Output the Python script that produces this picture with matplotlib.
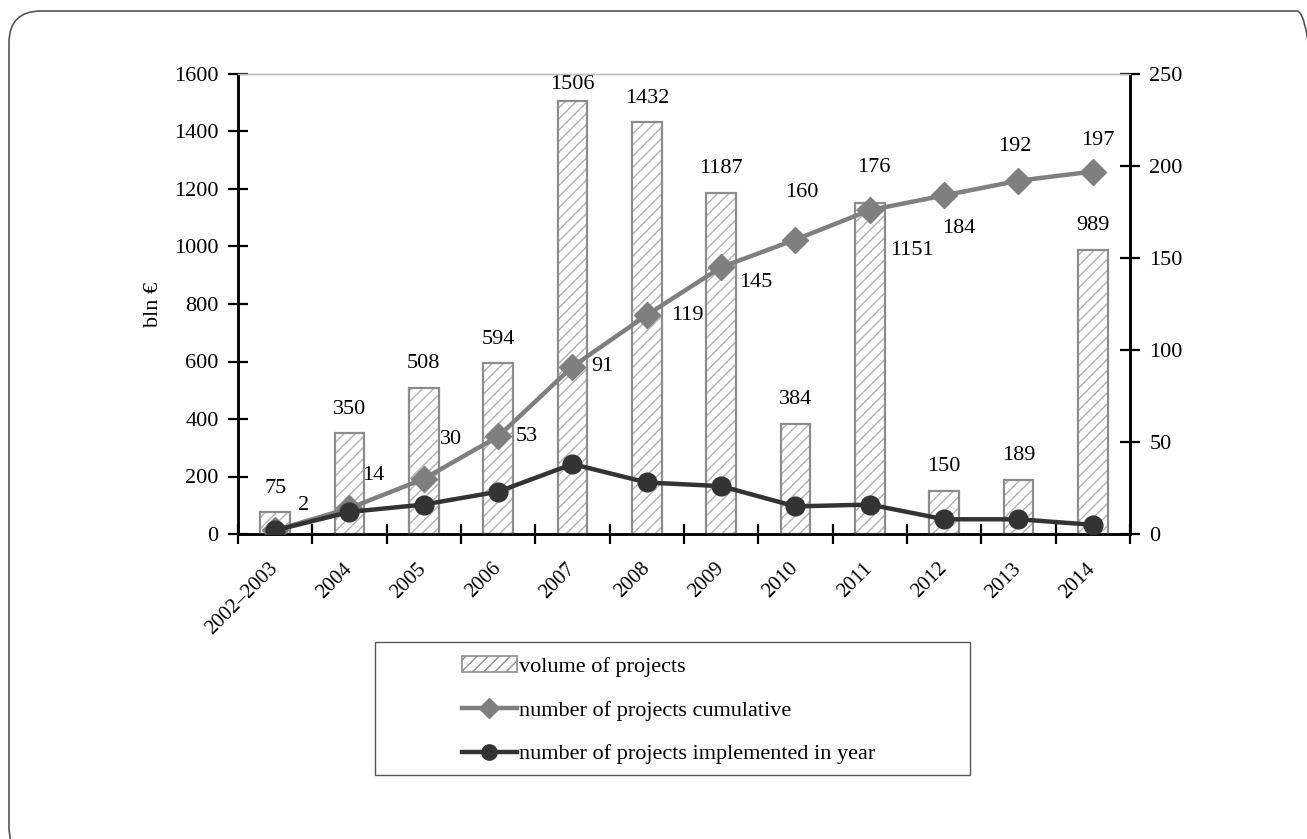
import numpy as np
import matplotlib.pyplot as plt
from matplotlib.patches import FancyBboxPatch, Rectangle, Patch
from matplotlib.lines import Line2D

plt.rcParams['font.family'] = ['Liberation Serif', 'DejaVu Serif']
plt.rcParams['font.size'] = 16
plt.rcParams['hatch.linewidth'] = 1.0

# dados
anos = ['2002\u20132003', '2004', '2005', '2006', '2007', '2008', '2009',
        '2010', '2011', '2012', '2013', '2014']
volume = [75, 350, 508, 594, 1506, 1432, 1187, 384, 1151, 150, 189, 989]
acumulado = [2, 14, 30, 53, 91, 119, 145, 160, 176, 184, 192, 197]
no_ano = [2, 12, 16, 23, 38, 28, 26, 15, 16, 8, 8, 5]

# deslocamento dos rotulos (pixels)
off_vol = [(0, 24)] * 12
off_vol[4] = (0, 17)
off_vol[8] = (42, -47)
off_acum = [(28, 25), (24, 33), (27, 39), (29, 0), (30, 0), (41, 0), (35, -15),
            (6, 47), (4, 43), (15, -33), (-4, 34), (5, 31)]

fig = plt.figure(figsize=(13.07, 8.39), dpi=100)

# moldura arredondada
moldura = FancyBboxPatch((9, -20), 1320, 848, boxstyle='round,pad=0,rounding_size=32',
                         transform=None, fill=False, edgecolor='#555555', lw=1.2)
fig.patches.append(moldura)

ax = fig.add_axes([238 / 1307, 1 - 534 / 839, (1130 - 238) / 1307, (534 - 74) / 839])
ax2 = ax.twinx()

x = np.arange(len(anos))
ax.bar(x, volume, width=0.4, color='white', hatch='///', edgecolor='#b0b0b0', lw=0, zorder=2)
ax.bar(x, volume, width=0.4, fill=False, edgecolor='#8c8c8c', lw=1.6, zorder=3)
for i, v in enumerate(volume):
    ax.annotate(str(v), (x[i], v), xytext=off_vol[i], textcoords='offset pixels',
                ha='center', va='center', fontsize=16)

ax2.plot(x, acumulado, color='#7f7f7f', lw=3.2, marker='D', ms=13, zorder=3)
ax2.plot(x, no_ano, color='#333333', lw=3.2, marker='o', ms=13.5, zorder=4)
for i, v in enumerate(acumulado):
    ax2.annotate(str(v), (x[i], v), xytext=off_acum[i], textcoords='offset pixels',
                 ha='center', va='center', fontsize=16)

ax.set_xlim(-0.5, len(anos) - 0.5)
ax.set_ylim(0, 1600)
ax2.set_ylim(0, 250)
ax.set_yticks(np.arange(0, 1601, 200))
ax2.set_yticks(np.arange(0, 251, 50))
ax.set_xticks(x)
ax.set_xticklabels(anos, rotation=45, ha='right', va='center', rotation_mode='anchor', fontsize=15)
ax.set_xticks(np.arange(-0.5, len(anos), 1), minor=True)
ax.tick_params(axis='x', which='major', length=0, pad=23)
ax.tick_params(axis='x', which='minor', direction='inout', length=14, width=1.6)
ax.tick_params(axis='y', direction='inout', length=14, width=1.6, pad=7)
ax2.tick_params(axis='y', direction='inout', length=14, width=1.6, pad=7)
ax.set_ylabel('bln \u20ac', labelpad=8)

for a in (ax, ax2):
    a.spines['left'].set_linewidth(1.8)
    a.spines['right'].set_linewidth(1.8)
    a.spines['bottom'].set_linewidth(1.8)
    a.spines['top'].set_color('#bfbfbf')
    a.spines['top'].set_linewidth(1)

# legenda
fig.patches.append(Rectangle((375 / 1307, 1 - 775 / 839), (970 - 375) / 1307, 133 / 839,
                             transform=fig.transFigure, fill=False, edgecolor='#555555', lw=1))
h1 = Patch(facecolor='white', edgecolor='#8c8c8c', hatch='///', lw=1.2)
h2 = Line2D([], [], color='#7f7f7f', lw=3.2, marker='D', ms=10)
h3 = Line2D([], [], color='#333333', lw=3.2, marker='o', ms=11)
fig.legend([h1, h2, h3], ['volume of projects', 'number of projects cumulative',
                          'number of projects implemented in year'],
           loc='upper left', bbox_to_anchor=(451 / 1307, 1 - 645 / 839), frameon=False,
           borderpad=0, handlelength=2.45, handletextpad=0.12, labelspacing=1.05, fontsize=16)

fig.savefig('out.png', dpi=100)
